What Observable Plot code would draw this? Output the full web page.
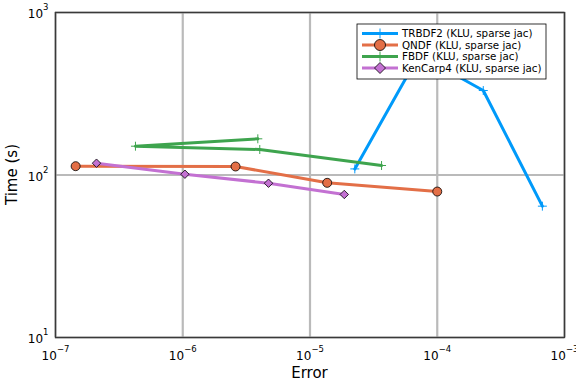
<!DOCTYPE html>
<html>
<head>
<meta charset="utf-8">
<script src="https://cdn.jsdelivr.net/npm/d3@7"></script>
<script src="https://cdn.jsdelivr.net/npm/@observablehq/plot@0.6"></script>
<style>
  html, body { margin: 0; padding: 0; background: white; }
  #chart svg { display: block; }
</style>
</head>
<body>
<div id="chart"></div>
<script>
// ---- data ----
const seriesNames = [
  "TRBDF2 (KLU, sparse jac)",
  "QNDF (KLU, sparse jac)",
  "FBDF (KLU, sparse jac)",
  "KenCarp4 (KLU, sparse jac)"
];
const seriesColors = ["#009AFA", "#E36F47", "#3EA44E", "#C371D2"];
const seriesSymbols = ["plus", "circle", "plus", "diamond2"];

const trbdf2Error = [2.25e-5, 7.2e-5, 2.3e-4, 6.7e-4];
const trbdf2Time  = [109, 550, 331, 64.3];
const qndfError   = [1.44e-7, 2.6e-6, 1.365e-5, 1.0e-4];
const qndfTime    = [113.3, 112.8, 89.5, 79.1];
const fbdfError   = [3.89e-6, 4.25e-7, 4.03e-6, 3.65e-5];
const fbdfTime    = [167, 150.4, 143.5, 114.4];
const kencarpError = [2.1e-7, 1.04e-6, 4.72e-6, 1.86e-5];
const kencarpTime  = [118.2, 101.1, 89.0, 75.9];

const xTicks = [1e-7, 1e-6, 1e-5, 1e-4, 1e-3];
const yTicks = [1e1, 1e2, 1e3];
const xLabel = "Error";
const yLabel = "Time (s)";

// ---- build table ----
const errors = [trbdf2Error, qndfError, fbdfError, kencarpError];
const times = [trbdf2Time, qndfTime, fbdfTime, kencarpTime];
const rows = seriesNames.flatMap((name, i) =>
  errors[i].map((e, j) => ({series: name, err: e, time: times[i][j], idx: j}))
);

const fmt = d => "10^" + Math.round(Math.log10(d));

const seriesMarks = seriesNames.flatMap((name, i) => {
  const data = rows.filter(r => r.series === name);
  const sym = seriesSymbols[i];
  const dotOpts = sym === "plus"
    ? {x: "err", y: "time", symbol: "plus", stroke: seriesColors[i], strokeWidth: 1, r: 3}
    : {x: "err", y: "time", symbol: sym, fill: seriesColors[i], stroke: "#000", strokeWidth: 0.8, r: sym === "circle" ? 4.5 : 3.8};
  return [
    Plot.line(data, {x: "err", y: "time", stroke: seriesColors[i], strokeWidth: 3, strokeLinejoin: "round"}),
    Plot.dot(data, dotOpts)
  ];
});

const chart = Plot.plot({
  width: 576,
  height: 384,
  marginLeft: 55,
  marginRight: 12,
  marginTop: 12,
  marginBottom: 47,
  style: {fontFamily: "DejaVu Sans", fontSize: "12px", background: "white", color: "#000"},
  x: {type: "log", domain: [1e-7, 1e-3]},
  y: {type: "log", domain: [10, 1000]},
  marks: [
    Plot.gridX(xTicks, {stroke: "#bababa", strokeOpacity: 1, strokeWidth: 2.2}),
    Plot.gridY(yTicks, {stroke: "#bababa", strokeOpacity: 1, strokeWidth: 2.2}),
    ...seriesMarks,
    Plot.frame({stroke: "#3a3a3a", strokeWidth: 1.4}),
    Plot.axisX(xTicks, {anchor: "bottom", tickSize: 0, tickPadding: 13.5, tickFormat: fmt, fontSize: 12, label: null}),
    Plot.axisY(yTicks, {anchor: "left", tickSize: 0, tickPadding: 7, tickFormat: fmt, fontSize: 12, label: null, dy: 2})
  ]
});

document.getElementById("chart").appendChild(chart);

const svg = d3.select(chart);

// superscript exponents in tick labels
svg.selectAll("text").each(function() {
  const t = this.textContent;
  const m = /^10\^(-?\d+)$/.exec(t);
  if (!m) return;
  const el = d3.select(this);
  el.text("");
  el.append("tspan").text("10");
  el.append("tspan").attr("dy", "-8").attr("font-size", "8.5px").text(m[1].replace("-", "\u2212"));
});

// axis labels
svg.append("text")
  .attr("x", 309.5).attr("y", 378)
  .attr("text-anchor", "middle")
  .attr("font-size", "15px")
  .attr("fill", "#000")
  .text(xLabel);
svg.append("text")
  .attr("transform", "translate(16.5,174.5) rotate(-90)")
  .attr("text-anchor", "middle")
  .attr("font-size", "15px")
  .attr("fill", "#000")
  .text(yLabel);

// legend
const lg = svg.append("g").attr("class", "legend").attr("text-anchor", "start");
lg.append("rect")
  .attr("x", 357).attr("y", 24).attr("width", 189).attr("height", 55)
  .attr("fill", "white").attr("stroke", "#000").attr("stroke-width", 0.8);
seriesNames.forEach((name, i) => {
  const y = 33.5 + i * 11.5;
  lg.append("line").attr("x1", 362).attr("x2", 398).attr("y1", y).attr("y2", y)
    .attr("stroke", seriesColors[i]).attr("stroke-width", 3);
  const sym = seriesSymbols[i];
  if (sym === "plus") {
    lg.append("line").attr("x1", 380).attr("x2", 380).attr("y1", y - 5).attr("y2", y + 5)
      .attr("stroke", seriesColors[i]).attr("stroke-width", 1);
  } else if (sym === "circle") {
    lg.append("circle").attr("cx", 380).attr("cy", y).attr("r", 5.5)
      .attr("fill", seriesColors[i]).attr("stroke", "#000").attr("stroke-width", 0.8);
  } else {
    const s = 5.5;
    lg.append("path").attr("d", `M380,${y - s}L${380 + s},${y}L380,${y + s}L${380 - s},${y}Z`)
      .attr("fill", seriesColors[i]).attr("stroke", "#000").attr("stroke-width", 0.8);
  }
  lg.append("text").attr("x", 402).attr("y", y).attr("dy", "0.35em")
    .attr("text-anchor", "start")
    .attr("font-size", "10.3px").attr("fill", "#000").text(name);
});
</script>
</body>
</html>
